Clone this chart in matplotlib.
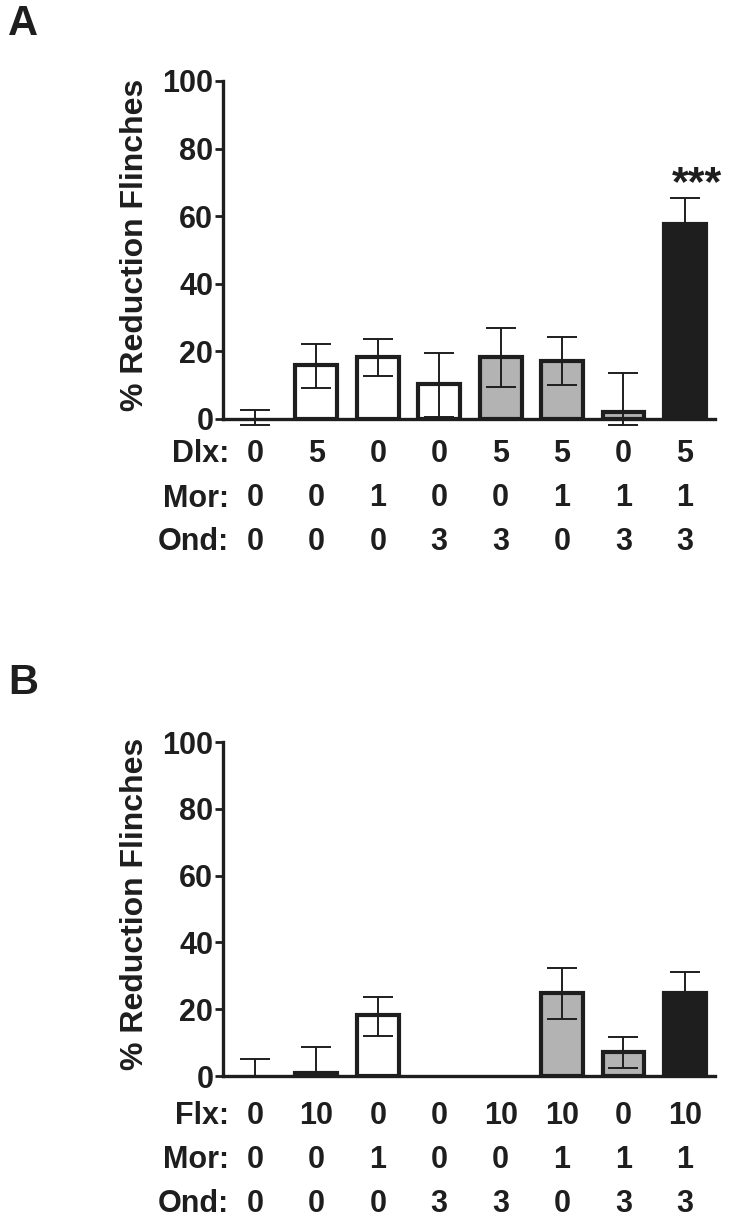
import matplotlib.pyplot as plt
import matplotlib.font_manager as fm

# --- donnees ---
groups = list(range(8))

# Panel A
a_means = [0.0, 16.0, 18.4, 10.4, 18.4, 17.3, 2.2, 57.6]
a_upper = [2.7, 22.1, 23.7, 19.6, 27.0, 24.4, 13.7, 65.5]
a_lower = [-1.8, 9.3, 12.6, 0.7, 9.6, 10.1, -1.8, 49.7]
a_dlx = ["0", "5", "0", "0", "5", "5", "0", "5"]

# Panel B
b_means = [0.0, 1.0, 18.2, 0.0, 0.0, 25.0, 7.2, 24.9]
b_upper = [5.0, 8.7, 23.8, 0.0, 0.0, 32.4, 11.8, 31.2]
b_lower = [0.0, 0.0, 12.1, 0.0, 0.0, 17.2, 2.3, 18.6]
b_flx = ["0", "10", "0", "0", "10", "10", "0", "10"]

mor = ["0", "0", "1", "0", "0", "1", "1", "1"]
ond = ["0", "0", "0", "3", "3", "0", "3", "3"]

yticks = [0, 20, 40, 60, 80, 100]
ylabel = "% Reduction Flinches"

fills = ["white", "white", "white", "white", "#b3b3b3", "#b3b3b3", "#b3b3b3", "#1e1e1e"]
EDGE = "#1e1e1e"

avail = {f.name for f in fm.fontManager.ttflist}
main_font = "Liberation Sans" if "Liberation Sans" in avail else "DejaVu Sans"
plt.rcParams['font.family'] = [main_font, 'DejaVu Sans']

W, H = 734, 1221
fig = plt.figure(figsize=(W / 100, H / 100), dpi=100)


def px_box(left, right, top, bottom):
    return [left / W, 1 - bottom / H, (right - left) / W, (bottom - top) / H]


def panel(box, means, upper, lower, row1_name, row1, rows_y, letter, letter_y, stars=None):
    ax = fig.add_axes(box)
    vis = [m > 0 for m in means]
    ax.bar([g for g, v in zip(groups, vis) if v], [m for m, v in zip(means, vis) if v],
           width=0.68, color=[c for c, v in zip(fills, vis) if v],
           edgecolor=EDGE, linewidth=3, zorder=2)
    err_lo = [m - l for m, l in zip(means, lower)]
    err_hi = [u - m for m, u in zip(means, upper)]
    ax.errorbar(groups, means, yerr=[err_lo, err_hi], fmt='none', ecolor=EDGE,
                elinewidth=1.4, capsize=11, capthick=1.4, zorder=3, clip_on=False)
    ax.set_xlim(-0.52, 7.49)
    ax.set_ylim(0, 100)
    ax.set_yticks(yticks)
    ax.set_yticklabels([str(t) for t in yticks], fontsize=22, fontweight='bold', color=EDGE)
    ax.set_xticks([])
    for s in ['top', 'right']:
        ax.spines[s].set_visible(False)
    for s in ['left', 'bottom']:
        ax.spines[s].set_linewidth(2.4)
        ax.spines[s].set_color(EDGE)
        ax.spines[s].set_zorder(4)
    ax.tick_params(axis='y', length=6, width=2, color=EDGE, pad=1)
    ax.set_ylabel(ylabel, fontsize=23, fontweight='bold', color=EDGE)
    ax.yaxis.set_label_coords((150 - 223) / 492, 0.515)

    # tableau des doses sous l'axe
    names = [row1_name, "Mor:", "Ond:"]
    rows = [row1, mor, ond]
    trans = ax.get_xaxis_transform()
    bottom_px = H * (1 - box[1])
    for name, vals, ypx in zip(names, rows, rows_y):
        fig.text(229 / W, 1 - ypx / H, name, ha='right', va='center_baseline', fontsize=22,
                 fontweight='bold', color=EDGE)
        yax = -(ypx - bottom_px) / (H * box[3])
        for g, v in zip(groups, vals):
            ax.text(g, yax, v, transform=trans, ha='center', va='center_baseline',
                    fontsize=22, fontweight='bold', color=EDGE, clip_on=False)

    fig.text(8 / W, 1 - letter_y / H, letter, ha='left', va='center', fontsize=30,
             fontweight='bold', color=EDGE)
    if stars is not None:
        g, yval = stars
        ax.text(g, yval, "***", ha='center', va='baseline', fontsize=31,
                fontweight='bold', color=EDGE)
    return ax


panel(px_box(223, 715, 81, 419), a_means, a_upper, a_lower, "Dlx:", a_dlx,
      [451, 495, 539], "A", 24, stars=(7.19, 66.3))
panel(px_box(223, 715, 742, 1076), b_means, b_upper, b_lower, "Flx:", b_flx,
      [1112, 1156, 1200], "B", 683)

fig.savefig("out.png", dpi=100, facecolor="white")
